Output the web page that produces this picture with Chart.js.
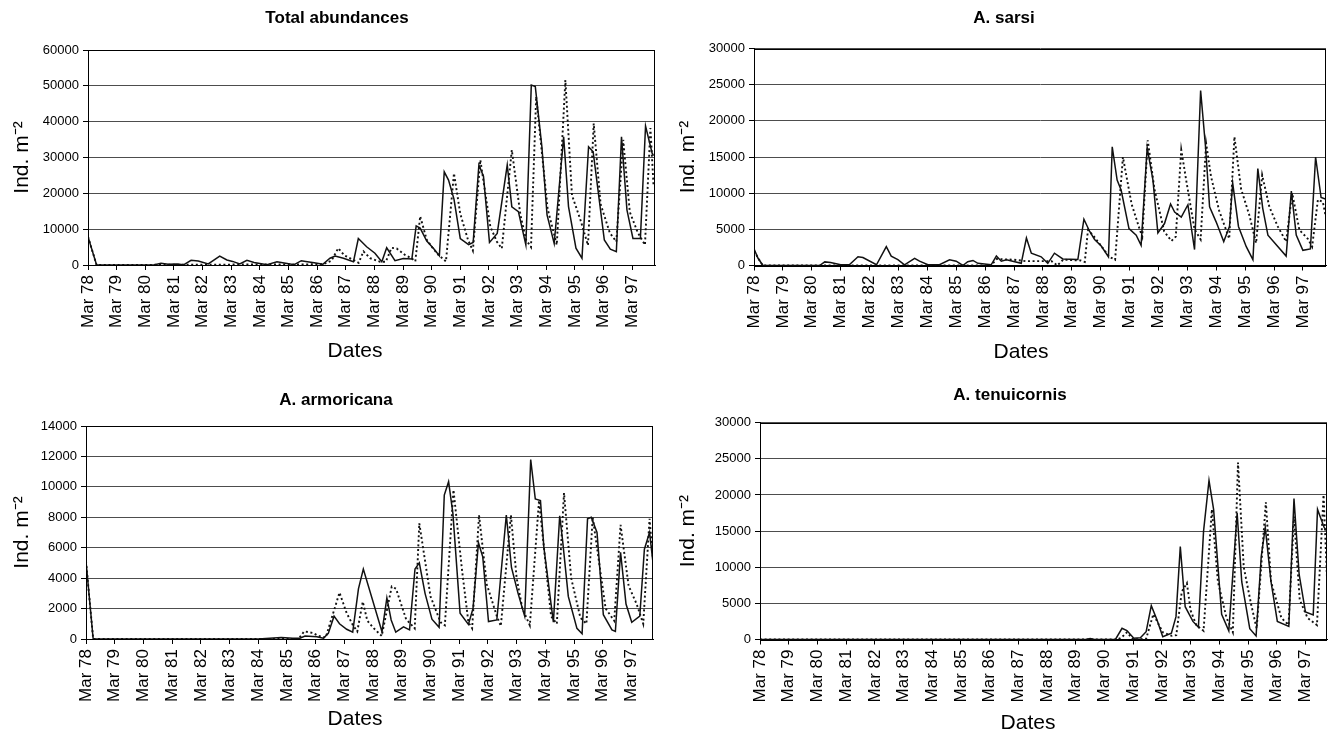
<!DOCTYPE html>
<html>
<head>
<meta charset="utf-8">
<script src="https://cdn.jsdelivr.net/npm/chart.js@4.4.0/dist/chart.umd.min.js"></script>
<style>
  html, body { margin: 0; padding: 0; background: #fff; }
  #wrap { position: relative; width: 1335px; height: 740px; overflow: hidden; }
  canvas { position: absolute; }
</style>
</head>
<body>
<div id="wrap">
  <canvas id="cTotal" width="667" height="370" style="left:0;top:0;width:667px;height:370px"></canvas>
  <canvas id="cSarsi" width="668" height="370" style="left:667px;top:0;width:668px;height:370px"></canvas>
  <canvas id="cArmor" width="667" height="370" style="left:0;top:370px;width:667px;height:370px"></canvas>
  <canvas id="cTenui" width="668" height="370" style="left:667px;top:370px;width:668px;height:370px"></canvas>
</div>
<script>
// Tick labels: one per March, years since Mar 78 on the x scale
const yearLabels = ['Mar 78','Mar 79','Mar 80','Mar 81','Mar 82','Mar 83','Mar 84','Mar 85','Mar 86','Mar 87',
                    'Mar 88','Mar 89','Mar 90','Mar 91','Mar 92','Mar 93','Mar 94','Mar 95','Mar 96','Mar 97'];

// Total abundances (ind. m-2); time in years after Mar 78
const totalObsT = [0,0.3,2.3,2.55,2.8,3.1,3.35,3.6,3.85,4.2,4.6,4.85,5.05,5.3,5.55,5.8,6.1,6.25,6.6,6.9,7.2,7.45,7.6,7.9,8.2,8.45,8.63,8.92,9.27,9.44,9.73,10.02,10.26,10.43,10.72,11.01,11.31,11.46,11.6,11.83,12.06,12.27,12.44,12.59,12.78,13.0,13.29,13.45,13.65,13.81,14.02,14.29,14.64,14.8,15.03,15.29,15.48,15.62,15.85,16.03,16.28,16.61,16.78,17.04,17.25,17.48,17.64,18.03,18.24,18.45,18.63,18.82,19.03,19.29,19.47,19.7,19.75];
const totalObsV = [7900,0,0,500,200,300,100,1300,1100,300,2500,1400,1000,300,1300,700,300,100,900,500,100,1200,1000,600,200,1900,2500,1900,900,7400,5100,3300,900,4800,1200,1800,1700,10900,10300,6700,4700,2600,26000,23700,18400,7400,5700,6300,27900,24800,6300,8800,27900,16200,14900,5600,50200,49800,33000,14000,6000,35800,16300,4700,1900,33000,31600,7000,4400,3700,35800,15400,7400,7400,38800,31200,30500];
const totalModT = [0,0.3,8.2,8.5,8.74,8.95,9.27,9.45,9.62,9.85,10.2,10.4,10.6,10.78,11.07,11.31,11.43,11.6,11.83,12.06,12.24,12.5,12.78,13.0,13.27,13.44,13.7,14.05,14.28,14.45,14.8,15.1,15.3,15.47,15.65,16.05,16.37,16.67,16.9,17.2,17.46,17.66,17.9,18.22,18.45,18.69,18.92,19.2,19.45,19.64,19.75];
const totalModV = [7900,0,200,1200,4700,2700,1400,600,3800,1900,900,900,4800,4600,2800,1800,1000,13600,7000,4500,2800,1000,25600,14300,7000,4000,29300,10700,6500,4600,32100,14000,7000,5000,47000,15700,5600,51600,19500,12500,5500,39500,17000,9000,6500,34900,14800,9000,5600,38200,22000];

// A. sarsi
const sarsiObsT = [0,0.14,0.31,2.27,2.45,2.65,3.0,3.3,3.6,3.77,4.24,4.58,4.75,4.98,5.21,5.56,5.73,6.02,6.42,6.77,7.0,7.23,7.4,7.58,7.75,8.21,8.39,8.56,8.74,9.25,9.43,9.6,9.94,10.17,10.4,10.69,11.21,11.42,11.62,11.79,12.02,12.27,12.4,12.57,12.71,12.98,13.23,13.4,13.61,13.81,13.98,14.21,14.42,14.56,14.79,15.02,15.25,15.46,15.63,15.77,16.0,16.26,16.46,16.57,16.77,17.04,17.27,17.44,17.61,17.79,18.42,18.6,18.77,19.0,19.26,19.44,19.63,19.78];
const sarsiObsV = [2300,1000,0,0,500,400,100,100,1200,1100,100,2600,1300,800,100,1000,600,100,100,800,600,0,530,700,300,100,1300,600,800,300,3800,1700,1200,300,1700,900,830,6400,4700,3600,2700,1200,16400,11800,10400,5100,4200,2800,16300,11800,4500,5800,8500,7400,6700,8400,2200,24200,16400,8100,6000,3300,5400,11400,5400,2600,800,13400,7900,4200,1300,10300,4200,2100,2300,15000,9400,9200];
const sarsiModT = [0,0.3,8.2,8.4,9.0,9.4,10.3,10.5,10.7,11.3,11.45,11.56,11.73,12.0,12.3,12.5,12.77,13.07,13.35,13.44,13.63,13.86,14.2,14.45,14.6,14.79,14.96,15.25,15.46,15.65,15.82,16.1,16.45,16.63,16.86,17.15,17.38,17.59,17.84,18.13,18.42,18.63,18.88,19.17,19.32,19.52,19.69,19.78];
const sarsiModV = [2000,0,0,900,800,600,600,0,800,700,500,4900,4200,2800,1200,800,15000,8500,5000,4000,17300,10600,4700,3400,4000,16000,11800,5000,3600,16900,12300,7600,3700,17800,10600,6900,3100,12500,8100,5400,3300,10000,4900,3700,2600,9100,8800,7000];

// A. armoricana
const armorObsT = [0,0.25,6.0,6.4,6.8,7.2,7.45,7.63,8.04,8.27,8.44,8.64,8.83,9.08,9.29,9.49,9.66,10.31,10.48,10.63,10.79,11.06,11.27,11.46,11.61,11.81,12.05,12.3,12.48,12.63,12.78,13.03,13.32,13.48,13.67,13.82,14.02,14.31,14.64,14.82,15.05,15.28,15.49,15.65,15.83,15.95,16.28,16.5,16.6,16.8,17.1,17.28,17.47,17.6,17.8,18.02,18.32,18.44,18.62,18.81,19.01,19.29,19.45,19.63,19.75];
const armorObsV = [5100,0,0,50,100,50,50,200,150,50,370,1500,1000,640,450,3300,4600,480,2700,1250,450,800,600,4600,5000,3000,1300,770,9460,10340,8260,1700,960,2000,6330,5400,1150,1250,8150,4700,3000,1500,11800,9200,9100,6000,1100,8100,6500,2800,700,350,7900,8000,7000,1600,600,500,5700,2300,1100,1500,5900,7000,5000];
const armorModT = [0,0.25,7.4,7.6,7.9,8.1,8.35,8.83,9.08,9.3,9.45,9.64,9.8,10.0,10.3,10.65,10.8,11.15,11.45,11.61,12.0,12.35,12.5,12.8,13.1,13.32,13.45,13.69,13.96,14.31,14.45,14.8,15.0,15.2,15.46,15.78,16.2,16.4,16.65,16.9,17.22,17.43,17.65,18.1,18.4,18.62,18.9,19.18,19.41,19.63,19.75];
const armorModV = [5100,0,0,500,400,200,100,3050,1700,900,500,2450,1200,750,200,3450,3300,1300,700,7600,2800,1100,900,9800,4500,1100,700,8150,3600,1500,850,8150,4000,2000,900,9100,1500,1000,9600,4000,1400,1000,8000,2000,1200,7500,3500,2300,1000,7900,5200];

// A. tenuicornis
const tenuiObsT = [0,11.35,11.5,11.65,12.38,12.61,12.78,13.02,13.25,13.45,13.63,13.83,14.03,14.33,14.49,14.64,14.81,15.08,15.27,15.45,15.64,15.8,16.08,16.33,16.62,16.78,17.06,17.28,17.46,17.6,17.8,18.02,18.42,18.6,18.78,19.0,19.27,19.42,19.65,19.75];
const tenuiObsV = [0,0,150,0,0,1550,1230,170,250,1080,4680,2700,390,860,3160,12850,4540,2500,1700,15000,22000,18000,3500,1200,17500,8000,1500,500,11500,15500,8000,2500,1800,19500,9000,3800,3400,18000,15500,15000];
const tenuiModT = [0,12.45,12.6,12.78,13.0,13.45,13.7,14.03,14.35,14.5,14.69,14.87,15.0,15.2,15.45,15.74,15.95,16.25,16.47,16.65,16.85,17.1,17.3,17.62,17.8,18.16,18.41,18.6,18.8,19.07,19.4,19.63,19.75];
const tenuiModV = [0,0,300,1000,0,100,3500,1000,500,600,6600,7800,4000,2000,1200,18000,8000,3000,1000,24500,10000,5000,1500,19000,8000,3000,2000,17000,5500,3000,2000,20000,8500];

const FONT = "'Liberation Sans', Arial, Helvetica, sans-serif";
Chart.defaults.font.family = FONT;
Chart.defaults.color = '#000';

const toPoints = (ts, vs) => ts.map((t, i) => ({ x: t, y: vs[i] }));

// Black frame around the plot area
const framePlugin = {
  id: 'frame',
  afterDraw(chart) {
    const a = chart.chartArea, ctx = chart.ctx;
    ctx.save();
    ctx.strokeStyle = '#000';
    ctx.lineWidth = 1;
    ctx.strokeRect(Math.round(a.left) + 0.5, Math.round(a.top) + 0.5,
                   Math.round(a.right - a.left) - 1, Math.round(a.bottom - a.top));
    ctx.restore();
  }
};

// Bold panel heading and the "Dates" caption under the month labels
const captionPlugin = {
  id: 'captions',
  afterDraw(chart, args, opts) {
    const ctx = chart.ctx;
    ctx.save();
    ctx.fillStyle = '#000';
    ctx.textAlign = 'center';
    ctx.textBaseline = 'middle';
    ctx.font = 'bold 17px ' + FONT;
    ctx.fillText(opts.heading, opts.headX, opts.headY);
    ctx.font = '21px ' + FONT;
    ctx.fillText(opts.xCaption, opts.capX, opts.capY);
    ctx.restore();
  }
};

function makePanel(id, p) {
  new Chart(document.getElementById(id), {
    type: 'line',
    data: {
      datasets: [
        { data: toPoints(p.obsT, p.obsV), borderColor: '#111', borderWidth: 1.5,
          pointRadius: 0, tension: 0, fill: false },
        { data: toPoints(p.modT, p.modV), borderColor: '#111', borderWidth: 1.9,
          borderDash: [2, 2.6], borderCapStyle: 'butt', pointRadius: 0, tension: 0, fill: false }
      ]
    },
    options: {
      responsive: false,
      animation: false,
      devicePixelRatio: 1,
      layout: { padding: { left: 0, right: p.padRight, top: p.padTop, bottom: 0 } },
      plugins: {
        legend: { display: false },
        tooltip: { enabled: false },
        captions: { heading: p.title, headX: p.titleX, headY: p.titleY,
                    xCaption: 'Dates', capX: p.capX, capY: p.capY }
      },
      scales: {
        x: {
          type: 'linear',
          min: 0,
          max: p.xMax,
          afterBuildTicks: s => { s.ticks = yearLabels.map((_, i) => ({ value: i })); },
          afterFit: s => { s.height = p.xHeight; },
          ticks: {
            autoSkip: false, minRotation: 90, maxRotation: 90, padding: 5,
            font: { size: 17 },
            callback: v => yearLabels[Math.round(v)]
          },
          grid: { drawOnChartArea: false, drawTicks: true, tickLength: 5, tickColor: '#000' },
          border: { color: '#000', width: 1 }
        },
        y: {
          min: 0,
          max: p.yMax,
          afterBuildTicks: s => {
            const t = [];
            for (let v = 0; v <= p.yMax; v += p.yStep) t.push({ value: v });
            s.ticks = t;
          },
          afterFit: s => { s.width = p.yWidth; },
          ticks: { padding: 4, font: { size: 13 }, callback: v => String(v) },
          grid: { color: '#4d4d4d', lineWidth: 1, drawTicks: true, tickLength: 5, tickColor: '#000' },
          border: { color: '#000', width: 1 },
          title: { display: true, text: 'Ind. m\u207B\u00B2', font: { size: 21 }, padding: { top: p.yTitlePad, bottom: 0 } }
        }
      }
    },
    plugins: [framePlugin, captionPlugin]
  });
}

makePanel('cTotal', {
  title: 'Total abundances', titleX: 337, titleY: 18, capX: 355, capY: 351,
  obsT: totalObsT, obsV: totalObsV, modT: totalModT, modV: totalModV,
  yMax: 60000, yStep: 10000, xMax: 19.8,
  padTop: 50, padRight: 12, yWidth: 88, xHeight: 105, yTitlePad: 10
});
makePanel('cSarsi', {
  title: 'A. sarsi', titleX: 337, titleY: 18, capX: 354, capY: 352,
  obsT: sarsiObsT, obsV: sarsiObsV, modT: sarsiModT, modV: sarsiModV,
  yMax: 30000, yStep: 5000, xMax: 19.8,
  padTop: 48.5, padRight: 9, yWidth: 87, xHeight: 104.5, yTitlePad: 9
});
makePanel('cArmor', {
  title: 'A. armoricana', titleX: 336, titleY: 30, capX: 355, capY: 349,
  obsT: armorObsT, obsV: armorObsV, modT: armorModT, modV: armorModV,
  yMax: 14000, yStep: 2000, xMax: 19.75,
  padTop: 56, padRight: 14, yWidth: 86, xHeight: 101, yTitlePad: 10
});
makePanel('cTenui', {
  title: 'A. tenuicornis', titleX: 343, titleY: 25, capX: 361, capY: 353,
  obsT: tenuiObsT, obsV: tenuiObsV, modT: tenuiModT, modV: tenuiModV,
  yMax: 30000, yStep: 5000, xMax: 19.75,
  padTop: 52.7, padRight: 8, yWidth: 93, xHeight: 100.5, yTitlePad: 9
});
</script>
</body>
</html>
